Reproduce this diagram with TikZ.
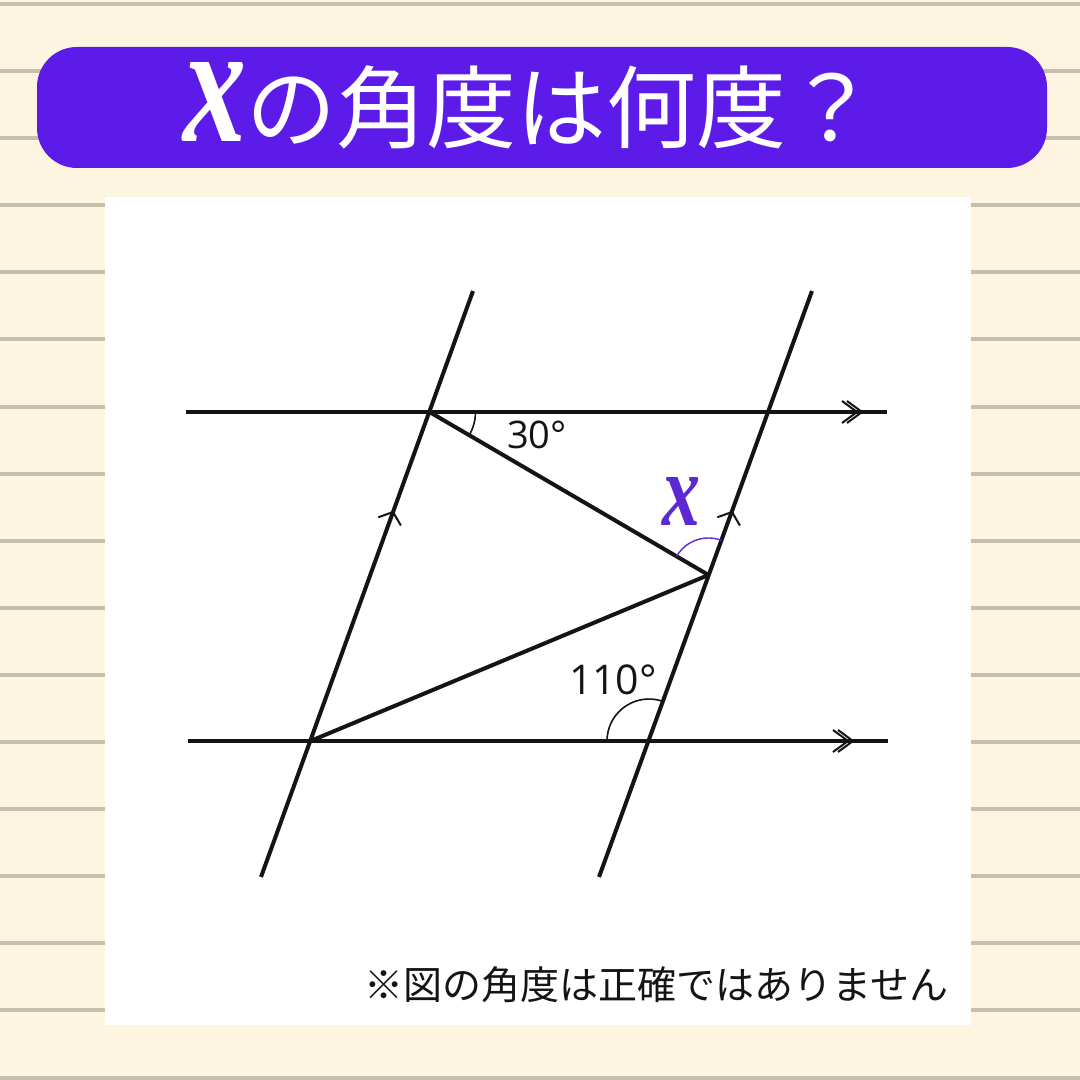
\documentclass[tikz,border=0pt]{standalone}
\usepackage{fontspec}
\usepackage{graphicx}
\newfontfamily\jpfont{Noto Sans CJK JP}
\newfontfamily\numfont{Open Sans}
\newfontfamily\xfont{Liberation Serif}
\definecolor{bgcream}{RGB}{254,245,224}
\definecolor{rulecol}{RGB}{200,191,170}
\definecolor{titlepurple}{RGB}{92,27,232}
\definecolor{xpurple}{RGB}{92,40,210}
\definecolor{ink}{RGB}{20,20,20}
\newcommand{\varx}{{\xfont\bfseries\itshape x}}
\begin{document}
\begin{tikzpicture}[x=1pt,y=1pt,
  mainline/.style={line width=4pt,draw=ink},
  arcline/.style={line width=1.6pt,draw=ink},
  chev/.style={line width=2pt,draw=ink},
  deglabel/.style={inner sep=0pt,anchor=base,text=ink},
]
\useasboundingbox (0,0) rectangle (1080,1080);
\fill[bgcream] (0,0) rectangle (1080,1080);
\foreach \k in {0,...,16}
  \fill[rulecol] (0,{1076-67.1*\k-2}) rectangle (1080,{1076-67.1*\k+2});
\fill[titlepurple, rounded corners=40pt] (37,912) rectangle (1047,1033);
\fill[white] (105,55) rectangle (971,883);

% key points
\coordinate (L1) at (473,789);
\coordinate (L2) at (261,203);
\coordinate (R1) at (812,789);
\coordinate (R2) at (599,203);
\coordinate (T1) at (186,668);
\coordinate (T2) at (887,668);
\coordinate (B1) at (188,339);
\coordinate (B2) at (888,339);
\coordinate (A) at (429.5,668);
\coordinate (B) at (310.5,339);
\coordinate (P) at (708.5,505);
\coordinate (C) at (649,339);

% lines
\draw[mainline] (L1) -- (L2);
\draw[mainline] (R1) -- (R2);
\draw[mainline] (T1) -- (T2);
\draw[mainline] (B1) -- (B2);
\draw[mainline] (A) -- (P);
\draw[mainline] (B) -- (P);

% parallel marks
\coordinate (s1) at (393,568);
\coordinate (s2) at (732,568);
\draw[chev] (s1) ++(-14.7,-5.3) -- (s1) -- ++(7.9,-13.5);
\draw[chev] (s2) ++(-14.7,-5.3) -- (s2) -- ++(7.9,-13.5);
\coordinate (d1) at (857,668);
\coordinate (d2) at (862,668);
\coordinate (d3) at (848,339);
\coordinate (d4) at (853,339);
\foreach \c in {d1,d2,d3,d4}
  \draw[chev] (\c) ++(-15,11) -- (\c) -- ++(-15,-11);

% angle arcs
\draw[arcline] (A) ++(-30.3:46) arc (-30.3:0:46);
\draw[arcline] (C) ++(70.1:42) arc (70.1:180:42);
\draw[line width=1.4pt,draw=xpurple] (P) ++(70.1:37) arc (70.1:149.7:37);

% labels
\node[deglabel,font=\numfont\fontsize{38}{38}\selectfont] (l30) at (537,631) {30°};
\node[deglabel,font=\numfont\fontsize{41}{41}\selectfont] (l110) at (613,385) {110°};
\node[inner sep=0pt,anchor=south,text=xpurple] (lx) at (681,554) {\resizebox{38pt}{48pt}{\varx}};

% title
\node[anchor=base west,inner sep=0pt,text=white,font=\jpfont\fontsize{90}{90}\selectfont] (title) at (183,938)
  {\resizebox{63pt}{79pt}{\varx}の角度は何度？};

% footnote
\node[anchor=base west,inner sep=0pt,text=ink,font=\jpfont\fontsize{39}{39}\selectfont] (note) at (364,80)
  {※図の角度は正確ではありません};
\end{tikzpicture}
\end{document}
